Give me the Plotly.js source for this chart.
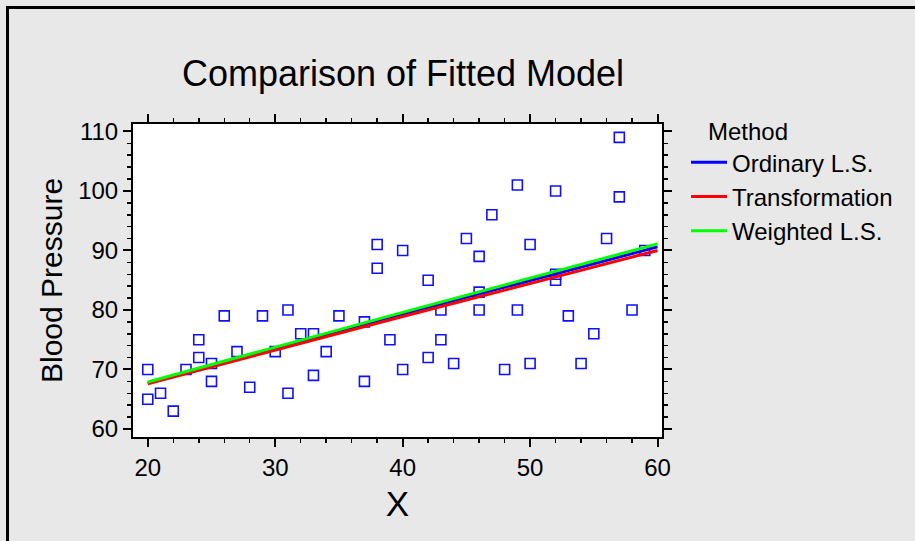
<!DOCTYPE html>
<html>
<head>
<meta charset="utf-8">
<script src="https://cdn.plot.ly/plotly-3.0.1.min.js"></script>
<style>
  html, body { margin: 0; padding: 0; background: #e8e8e8; }
  #chart { width: 915px; height: 541px; }
</style>
</head>
<body>
<div id="chart"></div>
<script>
// Observed data points
const obsX = [20,20,21,22,23,24,24,25,25,26,27,28,29,30,31,31,32,33,33,34,35,37,37,38,38,39,40,40,42,42,43,43,44,45,46,46,46,47,48,49,49,50,50,52,52,52,53,54,55,56,57,57,58,59];
const obsY = [70,65,66,63,70,75,72,71,68,79,73,67,79,73,80,66,76,76,69,73,79,78,68,91,87,75,90,70,85,72,80,75,71,92,89,83,80,96,70,101,80,91,71,100,86,85,79,71,76,92,109,99,80,90];

// Fitted models
const fitX = [20, 40, 60];
const olsY = [67.7, 79.3, 90.6];
const transY = [67.6, 78.9, 90.0];
const wlsY = [67.9, 79.6, 91.1];

const methodNames = ['Ordinary L.S.', 'Transformation', 'Weighted L.S.'];
const methodColors = ['#0000ff', '#ff0000', '#00ff00'];

const FONT = 'Liberation Sans, Arial, Helvetica, sans-serif';

const traces = [
  {
    x: obsX, y: obsY, type: 'scatter', mode: 'markers', showlegend: false,
    marker: { symbol: 'square-open', size: 10, color: '#1010ff', line: { width: 1.6, color: '#1010ff' } },
    hoverinfo: 'x+y'
  },
  { x: fitX, y: olsY, type: 'scatter', mode: 'lines', name: methodNames[0], line: { color: methodColors[0], width: 3 } },
  { x: fitX, y: transY, type: 'scatter', mode: 'lines', name: methodNames[1], line: { color: methodColors[1], width: 3 } },
  { x: fitX, y: wlsY, type: 'scatter', mode: 'lines', name: methodNames[2], line: { color: methodColors[2], width: 3 } }
];

const L = 133, R = 253, T = 124, B = 104;
const PW = 915 - L - R, PH = 541 - T - B;
const px2x = px => (px - L) / PW;
const px2y = py => (541 - B - py) / PH;

const axisCommon = {
  showgrid: false, zeroline: false,
  showline: true, linecolor: '#000', linewidth: 2, mirror: 'ticks',
  ticks: 'outside', ticklen: 8, tickwidth: 2, tickcolor: '#000',
  tickfont: { family: FONT, size: 24, color: '#000' },
};

const layout = {
  width: 915, height: 541,
  paper_bgcolor: '#e8e8e8', plot_bgcolor: '#ffffff',
  margin: { l: L, r: R, t: T, b: B, pad: 0 },
  font: { family: FONT, color: '#000' },
  title: {
    text: 'Comparison of Fitted Model',
    font: { family: FONT, size: 36, color: '#000' },
    x: 403 / 915, xanchor: 'center', xref: 'container',
    y: 1 - 73 / 541, yanchor: 'middle', yref: 'container'
  },
  xaxis: Object.assign({}, axisCommon, {
    range: [18.84, 60.35], tick0: 0, dtick: 10,
    minor: { dtick: 2, tick0: 0, ticklen: 4, tickwidth: 1.5, tickcolor: '#000', ticks: 'outside' },
    title: { text: 'X', font: { family: FONT, size: 35, color: '#000' }, standoff: 12 }
  }),
  yaxis: Object.assign({}, axisCommon, {
    range: [58.65, 111.25], tick0: 0, dtick: 10,
    minor: { dtick: 2, tick0: 0, ticklen: 4, tickwidth: 1.5, tickcolor: '#000', ticks: 'outside' },
    title: { text: 'Blood Pressure', font: { family: FONT, size: 30, color: '#000' }, standoff: 7 }
  }),
  legend: {
    x: px2x(686), xanchor: 'left',
    y: px2y(109), yanchor: 'top',
    bgcolor: 'rgba(0,0,0,0)', borderwidth: 0,
    font: { family: FONT, size: 24, color: '#000' },
    itemwidth: 36,
    title: { text: '\u00a0\u00a0\u00a0Method', font: { family: FONT, size: 24, color: '#000' } },
    tracegroupgap: 0
  },
  shapes: [
    {
      type: 'rect', xref: 'paper', yref: 'paper', layer: 'above',
      x0: px2x(7.5), x1: px2x(930), y0: px2y(560), y1: px2y(7.5),
      line: { color: '#000', width: 3 }, fillcolor: 'rgba(0,0,0,0)'
    }
  ],
  showlegend: true
};

Plotly.newPlot('chart', traces, layout, { displayModeBar: false, staticPlot: true });
</script>
</body>
</html>
